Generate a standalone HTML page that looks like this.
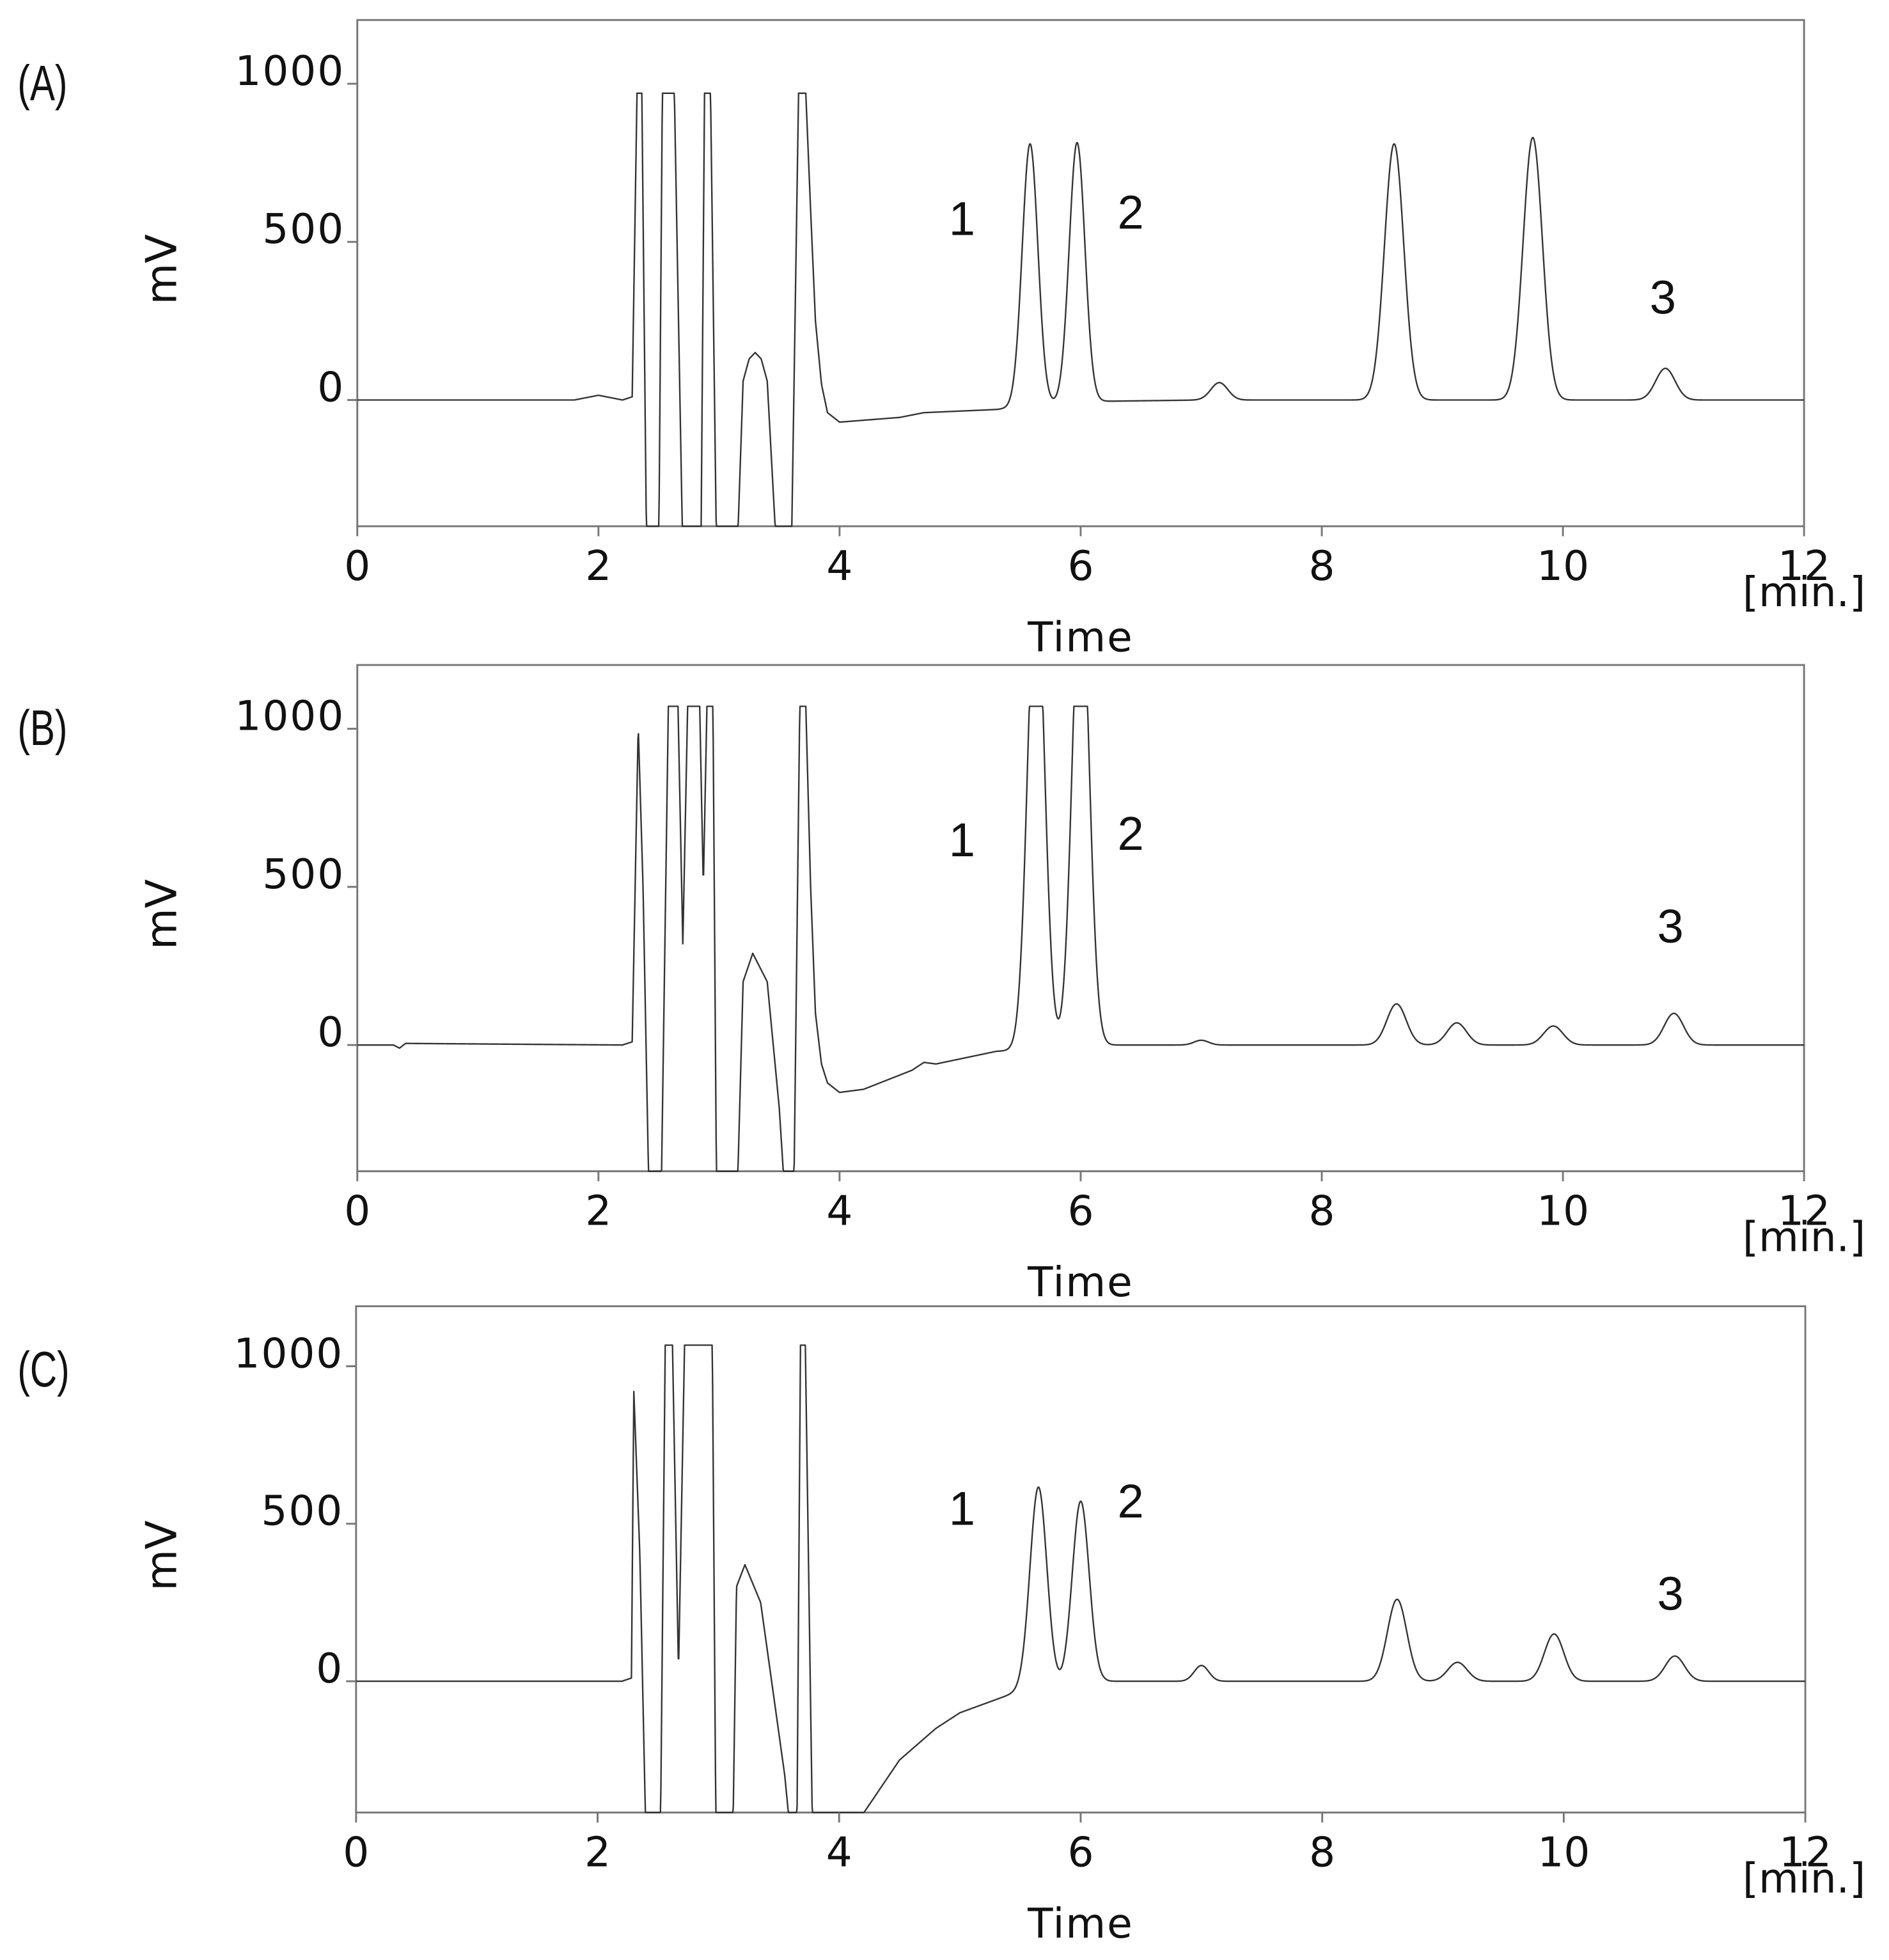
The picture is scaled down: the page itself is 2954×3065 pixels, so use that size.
<!DOCTYPE html>
<html><head><meta charset="utf-8"><style>
html,body{margin:0;padding:0;background:#fff;width:2954px;height:3065px;overflow:hidden}
svg{display:block}
text{font-family:"DejaVu Sans","Liberation Sans",sans-serif;fill:#111}
.lbl{font-family:"Liberation Sans Narrow","Liberation Sans",sans-serif}
</style></head><body>
<svg id="chart" width="2954" height="3065" viewBox="0 0 1512 1568" preserveAspectRatio="none" xmlns="http://www.w3.org/2000/svg"></svg>
<script>
// Panel A
const traceA_t = [0,1.8,2.0,2.2,2.28,2.32,2.36,2.4,2.5,2.53,2.63,2.7,2.85,2.88,2.93,2.98,3.15,3.2,3.25,3.3,3.35,3.4,3.48,3.6,3.66,3.72,3.76,3.8,3.85,3.9,4.0,4.5,4.7,5.3,6.0,7,12];
const traceA_v = [0,0,15,0,10,970,970,-500,-500,970,970,-500,-500,970,970,-500,-500,60,130,150,130,60,-500,-500,970,970,600,250,50,-40,-70,-55,-40,-30,-5,0,0];
const peaksA_t = [5.58,5.97,7.15,8.6,9.75,10.85];
const peaksA_h = [830,820,55,810,830,100];
const peaksA_w = [0.065,0.065,0.07,0.08,0.08,0.08];
// Panel B
const traceB_t = [0,0.3,0.35,0.4,2.2,2.28,2.33,2.37,2.42,2.52,2.58,2.66,2.7,2.74,2.84,2.87,2.9,2.95,2.98,3.15,3.2,3.28,3.4,3.5,3.55,3.62,3.67,3.72,3.76,3.8,3.85,3.9,4.0,4.2,4.6,4.7,4.8,5.3,6.2,12];
const traceB_v = [0,0,-10,5,0,10,1010,500,-500,-500,1071,1071,320,1071,1071,500,1071,1071,-500,-500,200,290,200,-200,-500,-500,1071,1071,500,100,-60,-120,-150,-140,-80,-55,-60,-20,0,0];
const peaksB_t = [5.63,6.0,7.0,8.62,9.12,9.92,10.92];
const peaksB_h = [1500,1500,15,130,70,60,100];
const peaksB_w = [0.07,0.07,0.06,0.08,0.08,0.08,0.08];
// Panel C
const traceC_t = [0,2.2,2.28,2.3,2.35,2.4,2.52,2.56,2.62,2.67,2.72,2.95,2.98,3.12,3.15,3.22,3.35,3.55,3.6,3.65,3.68,3.72,3.78,4.2,4.5,4.8,5.0,5.5,6.2,12];
const traceC_v = [0,0,10,920,400,-500,-500,1067,1067,30,1067,1067,-500,-500,300,370,250,-300,-500,-500,1067,1067,-500,-420,-250,-150,-100,-30,0,0];
const peaksC_t = [5.65,6.0,7.0,8.62,9.12,9.92,10.92];
const peaksC_h = [640,580,50,260,60,150,80];
const peaksC_w = [0.07,0.07,0.06,0.08,0.08,0.08,0.08];
// labels
const xTicks = [0,2,4,6,8,10,12];
const yTicks = [0,500,1000];

const NS="http://www.w3.org/2000/svg";
const svg=document.getElementById('chart');
function mk(tag,attrs,parent){const e=document.createElementNS(NS,tag);for(const k in attrs)e.setAttribute(k,attrs[k]);(parent||svg).appendChild(e);return e;}
function interp(ts,vs,t){for(let i=1;i<ts.length;i++){if(t<=ts[i]){const f=(t-ts[i-1])/(ts[i]-ts[i-1]);return vs[i-1]+f*(vs[i]-vs[i-1]);}}return vs[vs.length-1];}

const panels=[
 {id:'a',letter:'(A)',top:16,bot:421,y0:320,y1000:67,x0:286,x12:1444,clip:970,tt:traceA_t,tv:traceA_v,pt:peaksA_t,ph:peaksA_h,pw:peaksA_w,labels:[[770,188,'1'],[905,183,'2'],[1331,251,'3']]},
 {id:'b',letter:'(B)',top:532,bot:937,y0:836,y1000:583,x0:286,x12:1444,clip:1071,tt:traceB_t,tv:traceB_v,pt:peaksB_t,ph:peaksB_h,pw:peaksB_w,labels:[[770,685,'1'],[905,680,'2'],[1337,754,'3']]},
 {id:'c',letter:'(C)',top:1045,bot:1450,y0:1345,y1000:1093,x0:285,x12:1445,clip:1067,tt:traceC_t,tv:traceC_v,pt:peaksC_t,ph:peaksC_h,pw:peaksC_w,labels:[[770,1220,'1'],[905,1214,'2'],[1337,1288,'3']]}
];

panels.forEach(p=>{
  const g=mk('g',{});
  
  
  const X=t=>p.x0+(p.x12-p.x0)*t/12;
  const Y=v=>p.y0+(p.y1000-p.y0)*v/1000;
  const fr=mk('rect',{x:p.x0,y:p.top,width:p.x12-p.x0,height:p.bot-p.top,fill:'none',stroke:'#777','stroke-width':1.5},g);
  
  
  let d='';
  const lo=(p.y0-p.bot)/(p.y0-p.y1000)*1000;
  for(let t=0;t<=12.0001;t+=0.004){
    let v=interp(p.tt,p.tv,t);
    for(let i=0;i<p.pt.length;i++){const z=(t-p.pt[i])/p.pw[i];v+=p.ph[i]*Math.exp(-0.5*z*z);}
    v=Math.min(p.clip,Math.max(lo,v));
    d+=(d?'L':'M')+X(t).toFixed(2)+','+Y(v).toFixed(2);
  }
  const path=mk('path',{d:d,fill:'none',stroke:'#333','stroke-width':1.2,'stroke-linejoin':'round'},g);
  
  
  xTicks.forEach(t=>{
    const tk=mk('line',{x1:X(t),x2:X(t),y1:p.bot,y2:p.bot+8,stroke:'#777','stroke-width':1.5},g);
    
    
    const tx=mk('text',{x:X(t),y:p.bot+43,'font-size':33,'text-anchor':'middle'},g);
    
    
    tx.textContent=t;
  });
  yTicks.forEach(v=>{
    const tk=mk('line',{x1:p.x0-8,x2:p.x0,y1:Y(v),y2:Y(v),stroke:'#777','stroke-width':1.5},g);
    
    
    const tx=mk('text',{x:p.x0-10,y:Y(v)+1,'font-size':33,'text-anchor':'end','letter-spacing':1},g);
    
    
    tx.textContent=v;
  });
  const yt=mk('text',{x:0,y:0,'font-size':34,'text-anchor':'middle',transform:`translate(141,${(p.top+p.bot)/2-3}) rotate(-90)`},g);
  
  
  yt.textContent='mV';
  const xt=mk('text',{x:865,y:p.bot+100,'font-size':33,'text-anchor':'middle','letter-spacing':1},g);
  
  
  xt.textContent='Time';
  const un=mk('text',{x:1444,y:p.bot+64,'font-size':33,'text-anchor':'middle'},g);
  
  
  un.textContent='[min.]';
  const pl=mk('text',{x:14,y:p.top+64,'font-size':40,'class':'lbl',transform:`translate(3.5,0) scale(0.75,1)`},g);
  
  
  pl.textContent=p.letter;
  p.labels.forEach(l=>{
    const t=mk('text',{x:l[0],y:l[1],'font-size':38,'text-anchor':'middle','class':'lbl'},g);
    
    
    t.textContent=l[2];
  });
});
</script>
</body></html>
